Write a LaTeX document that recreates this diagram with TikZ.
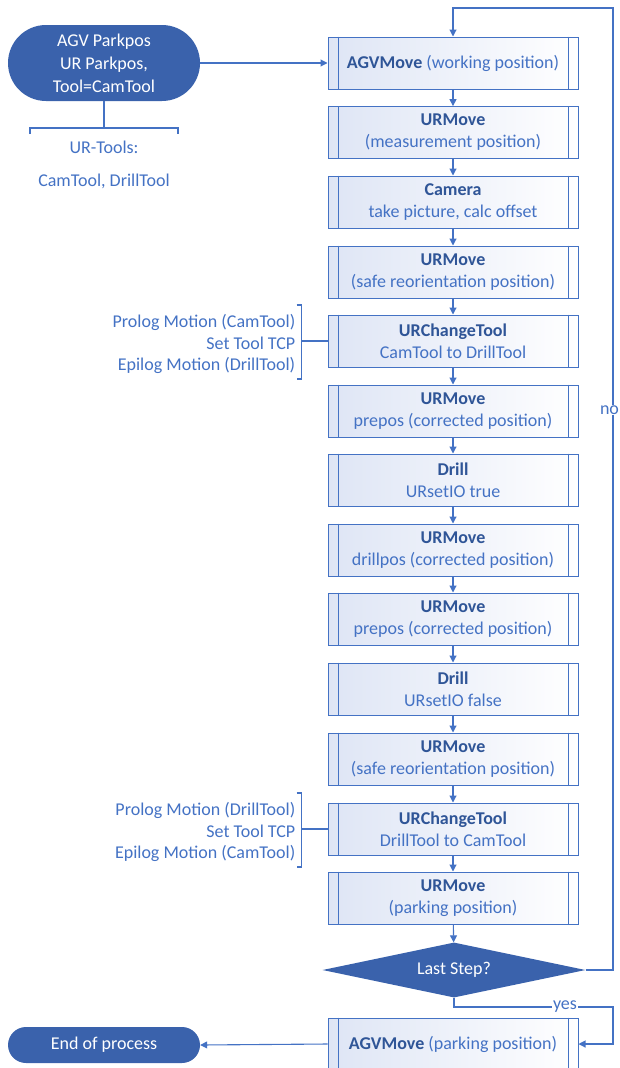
\documentclass[tikz,border=0pt]{standalone}
\usepackage{fontspec}
\setmainfont{Carlito}
\usetikzlibrary{arrows.meta,shapes.geometric,calc}
\definecolor{lc}{RGB}{68,114,196}
\definecolor{dk}{RGB}{58,98,172}
\definecolor{tc}{RGB}{47,85,151}
\definecolor{bl}{RGB}{222,229,245}
\begin{document}
\begin{tikzpicture}[x=1pt,y=-1pt,
  font=\fontsize{18}{22}\selectfont,
  line/.style={draw=lc,line width=1.1pt},
  arr/.style={line,-{Triangle[length=7pt,width=7pt]}},
  proc/.style={draw=lc,line width=1pt,minimum width=250pt,minimum height=52pt,
    left color=bl,right color=white,text=lc,align=center,inner sep=0pt},
  term/.style={fill=dk,text=white,align=center,minimum width=192pt,inner sep=0pt},
  side/.style={text=lc,align=right,anchor=east,inner sep=0pt,font=\fontsize{18}{21.5}\selectfont},
  lbl/.style={text=lc,fill=white,inner sep=1pt}
]
\useasboundingbox (0,0) rectangle (620,1068);

% terminals
\node[term,minimum height=76pt,rounded corners=38pt,font=\fontsize{18}{23}\selectfont] (start) at (104,63)
  {AGV Parkpos\\UR Parkpos,\\Tool=CamTool};
\node[term,minimum height=36pt,rounded corners=18pt] (end) at (104,1045) {End of process};

% process boxes
\node[proc] (p1) at (453,63) {{\bfseries\color{tc}AGVMove} (working position)};
\node[proc] (p2) at (453,132.6) {{\bfseries\color{tc}URMove}\\(measurement position)};
\node[proc] (p3) at (453,202) {{\bfseries\color{tc}Camera}\\take picture, calc offset};
\node[proc] (p4) at (453,272) {{\bfseries\color{tc}URMove}\\(safe reorientation position)};
\node[proc] (p5) at (453,341) {{\bfseries\color{tc}URChangeTool}\\CamTool to DrillTool};
\node[proc] (p6) at (453,411) {{\bfseries\color{tc}URMove}\\prepos (corrected position)};
\node[proc] (p7) at (453,480) {{\bfseries\color{tc}Drill}\\URsetIO true};
\node[proc] (p8) at (453,550) {{\bfseries\color{tc}URMove}\\drillpos (corrected position)};
\node[proc] (p9) at (453,619) {{\bfseries\color{tc}URMove}\\prepos (corrected position)};
\node[proc] (p10) at (453,689) {{\bfseries\color{tc}Drill}\\URsetIO false};
\node[proc] (p11) at (453,759) {{\bfseries\color{tc}URMove}\\(safe reorientation position)};
\node[proc] (p12) at (453,829) {{\bfseries\color{tc}URChangeTool}\\DrillTool to CamTool};
\node[proc] (p13) at (453,898) {{\bfseries\color{tc}URMove}\\(parking position)};
\node[diamond,fill=dk,text=white,aspect=4.8,inner sep=0pt,
  minimum width=263pt,minimum height=55pt] (dec) at (454,970) {Last Step?};
\node[proc] (pe) at (453,1044) {{\bfseries\color{tc}AGVMove} (parking position)};

\foreach \n in {p1,p2,p3,p4,p5,p6,p7,p8,p9,p10,p11,p12,p13,pe}{
  \draw[lc,line width=1pt] ([xshift=11pt]\n.north west) -- ([xshift=11pt]\n.south west);
  \draw[lc,line width=1pt] ([xshift=-10pt]\n.north east) -- ([xshift=-10pt]\n.south east);
}

% main flow
\draw[arr] (start.east) -- (p1.west);
\foreach \a/\b in {p1/p2,p2/p3,p3/p4,p4/p5,p5/p6,p6/p7,p7/p8,p8/p9,p9/p10,p10/p11,p11/p12,p12/p13}
  \draw[arr] (\a) -- (\b);
\draw[arr] (p13) -- (dec);
\draw[arr] (pe.west) -- (end.east);

% no loop
\coordinate (nr) at (613,970);
\coordinate (nt) at (613,8);
\draw[arr] (dec.east) -- (nr) -- (nt) -| (p1.north);
\node[lbl] (no) at (609.5,410) {no};

% yes loop
\coordinate (y1) at (454,1007);
\coordinate (y2) at (613,1007);
\draw[arr] (dec.south) -- (y1) -- (y2) |- (pe.east);
\node[lbl] (yes) at (565,1007) {yes};

% start annotation
\coordinate (sb) at (104,128);
\draw[line] (start.south) -- (sb);
\draw[line] (30,134) -- (30,128) -- (178,128) -- (178,134);
\node[text=lc] (urt) at (104,147) {UR-Tools:};
\node[text=lc] (urt2) at (104,181) {CamTool, DrillTool};

% side annotations
\foreach \p/\ta/\tb in {p5/CamTool/DrillTool,p12/DrillTool/CamTool}{
  \draw[line] (\p.west) -- ++(-26,0) coordinate (b\p);
  \draw[line] ($(b\p)+(-5,-36)$) -- ++(5,0) -- ++(0,74) -- ++(-5,0);
  \node[side] (s\p) at ($(b\p)+(-6,3)$) {Prolog Motion (\ta)\\Set Tool TCP\\Epilog Motion (\tb)};
}
\end{tikzpicture}
\end{document}
